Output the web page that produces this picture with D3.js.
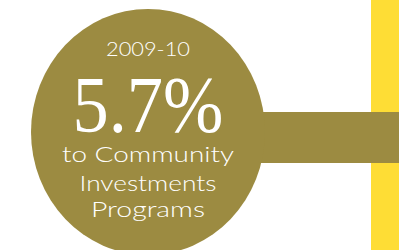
<!DOCTYPE html>
<html>
<head>
<script src="https://d3js.org/d3.v7.min.js"></script>
<title> Community Investments </title>
<style>
body {margin:0; background:#ffffff;}
svg {display:block;}
</style>
</head>
<body>
<div id="myDiv"></div>
<script>
// data
var years = ["2009-10"];
var shares = [5.7];
var labelLines = ["to Community", "Investments", "Programs"];

var width = 399, height = 250;

// widths the label lines take in the picture
var lineWidths = [172, 137, 114];
var lineY = [30, 59, 85];

var svgContainer = d3.select("#myDiv").append("svg")
	.attr("width", width)
	.attr("height", height);

// yellow band on the right
svgContainer.append("rect")
	.attr("x", 371)
	.attr("y", 0)
	.attr("width", width - 371)
	.attr("height", height)
	.attr("fill", "#fedd35");

// the bar leaving the circle
svgContainer.append("rect")
	.attr("x", 200)
	.attr("y", 112)
	.attr("width", width - 200)
	.attr("height", 51)
	.attr("fill", "#9c8b41");

// the big circle, one per value
var bubble = svgContainer.selectAll("g.bubble").data(shares);
var g = bubble.enter().append("g")
	.attr("class", "bubble")
	.attr("transform", "translate(148,132)");

g.append("ellipse")
	.attr("rx", 117)
	.attr("ry", 123)
	.attr("fill", "#9c8b41");

g.append("text")
	.attr("y", -76)
	.attr("text-anchor", "middle")
	.attr("fill", "#ffffff")
	.style("font-family", "Lato")
	.style("font-weight", 300)
	.style("font-size", "20px")
	.attr("textLength", 84)
	.attr("lengthAdjust", "spacingAndGlyphs")
	.text(function(d, i) { return years[i]; });

g.append("text")
	.attr("y", 0)
	.attr("text-anchor", "middle")
	.attr("fill", "#ffffff")
	.style("font-family", "Liberation Serif")
	.style("font-size", "80px")
	.attr("textLength", 151)
	.attr("lengthAdjust", "spacingAndGlyphs")
	.text(function(d) { return d3.format(".1f")(d) + "%"; });

g.selectAll("text.line").data(labelLines).enter()
	.append("text")
	.attr("class", "line")
	.attr("y", function(d, i) { return lineY[i]; })
	.attr("text-anchor", "middle")
	.attr("fill", "#ffffff")
	.style("font-family", "Lato")
	.style("font-weight", 300)
	.style("font-size", "22px")
	.attr("textLength", function(d, i) { return lineWidths[i]; })
	.attr("lengthAdjust", "spacingAndGlyphs")
	.text(function(d) { return d; });
</script>
</body>
</html>
